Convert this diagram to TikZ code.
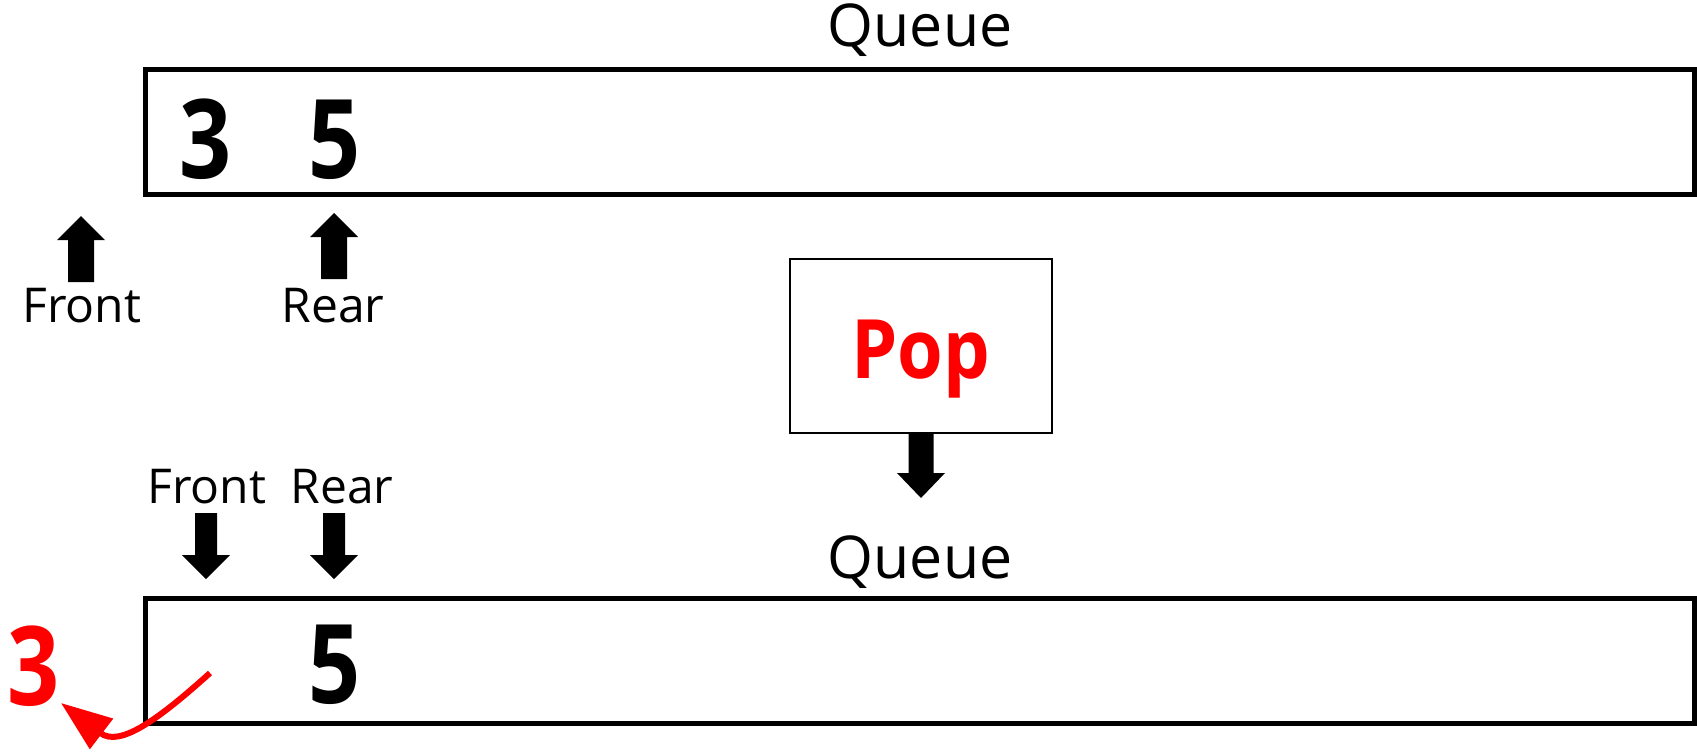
\documentclass[tikz,border=0pt]{standalone}
\usepackage{graphicx}
\usepackage{fontspec}
\setmainfont{Open Sans}
\usetikzlibrary{arrows.meta}

% filled block arrow: x, tip y, head-base y, tail y, head half-width, shaft half-width
\newcommand\blockarrow[6]{%
  \fill[black] (#1,#2) -- (#1+#5,#3) -- (#1+#6,#3) -- (#1+#6,#4)
    -- (#1-#6,#4) -- (#1-#6,#3) -- (#1-#5,#3) -- cycle;}
% narrow bold glyphs
\newcommand\narrow[2]{\scalebox{#1}[1]{#2}}

\begin{document}
\begin{tikzpicture}[x=1pt,y=-1pt,
  queuebox/.style={draw=black,line width=5pt,inner sep=0pt,
    minimum width=1549pt,minimum height=125pt},
  popbox/.style={draw=black,line width=2pt,inner sep=0pt,
    minimum width=262pt,minimum height=174pt},
  title/.style={font=\fontsize{59}{59}\selectfont,inner sep=0pt,anchor=base},
  pointer/.style={font=\fontsize{48}{48}\selectfont,inner sep=0pt,anchor=base},
  digit/.style={font=\bfseries\fontsize{110}{110}\selectfont,inner sep=0pt,anchor=base},
  optext/.style={font=\bfseries\fontsize{82}{82}\selectfont,text=red,inner sep=0pt,anchor=base},
  popped/.style={red,line width=6pt,-{Triangle[length=51pt,width=37pt]}}
]
\useasboundingbox (0,0) rectangle (1697,752);

% queue before the operation
\node[title] (qtitle1) at (920,47) {Queue};
\node[queuebox] (q1) at (919.5,132) {};
\node[digit] (a3) at (206,178) {\narrow{0.83}{3}};
\node[digit] (a5) at (335,178) {\narrow{0.83}{5}};
\blockarrow{81}{216}{240}{282}{24}{13}
\blockarrow{334}{213}{237}{279}{24}{13}
\node[pointer] (front1) at (82,322) {Front};
\node[pointer] (rear1) at (333,322) {Rear};

% the operation
\node[popbox] (pop) at (921,345.5) {};
\node[optext] (poptext) at (921,378) {\narrow{0.9}{Pop}};
\blockarrow{921}{498}{473}{433}{24}{12.5}

% queue after the operation
\node[pointer] (front2) at (207,503) {Front};
\node[pointer] (rear2) at (342,503) {Rear};
\blockarrow{206}{579}{555}{513}{24}{11}
\blockarrow{334}{579}{555}{513}{24}{11}
\node[title] (qtitle2) at (920,578) {Queue};
\node[queuebox] (q2) at (919.5,660.5) {};
\node[digit] (b5) at (335,703) {\narrow{0.83}{5}};
\node[digit,text=red] (out3) at (34,705) {\narrow{0.83}{3}};
\coordinate (slot) at (210,673);
\coordinate (outtip) at (61,703);
\draw[popped] (slot) .. controls (160,718) and (120,748) .. (outtip);
\end{tikzpicture}
\end{document}
